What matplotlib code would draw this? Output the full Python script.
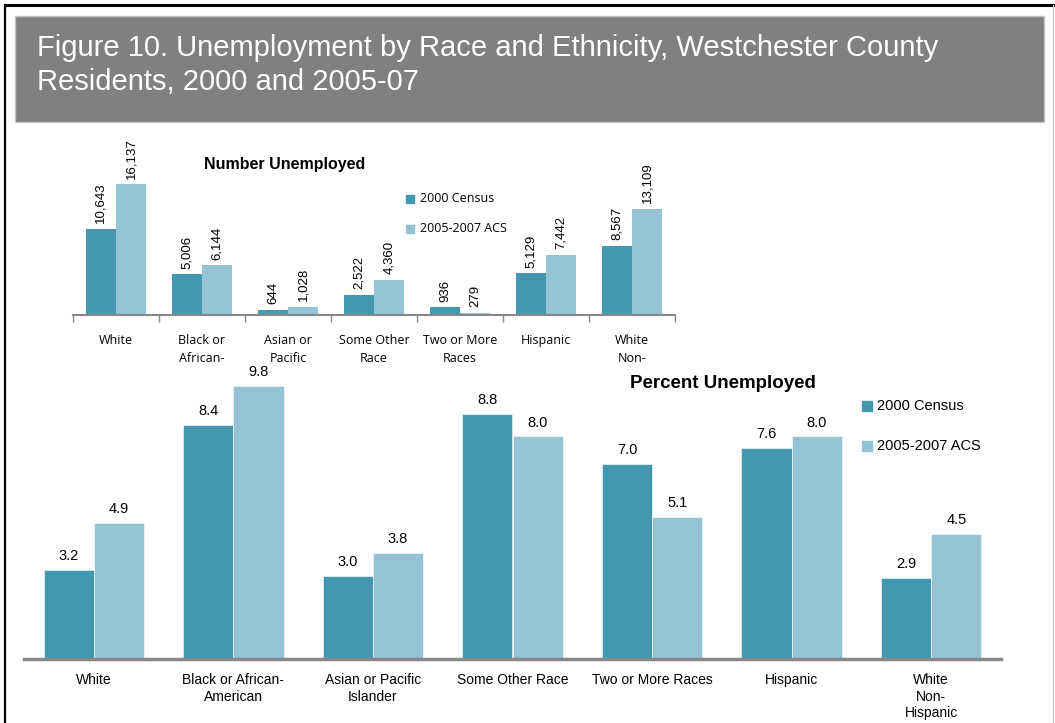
import matplotlib.pyplot as plt
from matplotlib.patches import Rectangle
from matplotlib.lines import Line2D
from matplotlib.transforms import Bbox
import numpy as np

plt.rcParams['font.family'] = ['Liberation Sans', 'DejaVu Sans']

# data
groups_top = ['White', 'Black or\nAfrican-', 'Asian or\nPacific', 'Some Other\nRace',
              'Two or More\nRaces', 'Hispanic', 'White\nNon-']
groups_bot = ['White', 'Black or African-\nAmerican', 'Asian or Pacific\nIslander',
              'Some Other Race', 'Two or More Races', 'Hispanic', 'White\nNon-\nHispanic']
series = ['2000 Census', '2005-2007 ACS']
num_2000 = [10643, 5006, 644, 2522, 936, 5129, 8567]
num_acs = [16137, 6144, 1028, 4360, 279, 7442, 13109]
pct_2000 = [3.2, 8.4, 3.0, 8.8, 7.0, 7.6, 2.9]
pct_acs = [4.9, 9.8, 3.8, 8.0, 5.1, 8.0, 4.5]

c1 = '#4398AF'
c2 = '#93C3D4'
W, H = 1055, 723

fig = plt.figure(figsize=(W / 100, H / 100), dpi=100)


def px_axes(left, right, top, bottom):
    return fig.add_axes([left / W, 1 - bottom / H, (right - left) / W, (bottom - top) / H])


# frame + title box
fig.add_artist(Line2D([5 / W, 1], [1 - 5 / H, 1 - 5 / H], color='black', lw=2.2))
fig.add_artist(Line2D([5 / W, 5 / W], [0, 1 - 5 / H], color='black', lw=1.6))
fig.add_artist(Line2D([1053 / W, 1053 / W], [0, 1 - 5 / H], color='#c8c8c8', lw=1))
fig.add_artist(Rectangle((15 / W, 1 - 122 / H), (1044 - 15) / W, (122 - 16) / H,
                         facecolor='#808080', edgecolor='#c4c4c4', lw=1))
fig.text(37 / W, 1 - 48 / H, 'Figure 10. Unemployment by Race and Ethnicity, Westchester County',
         color='white', fontsize=21, va='center')
fig.text(37 / W, 1 - 82 / H, 'Residents, 2000 and 2005-07',
         color='white', fontsize=21, va='center')

# ---- number unemployed ----
x = np.arange(len(groups_top))
w = 0.35
ax1 = px_axes(73, 675, 153, 315)
b1 = ax1.bar(x - w / 2, num_2000, w, color=c1, label=series[0])
b2 = ax1.bar(x + w / 2, num_acs, w, color=c2, label=series[1])
ax1.set_xlim(-0.5, len(x) - 0.5)
ax1.set_ylim(0, 20000)
for bars, vals in ((b1, num_2000), (b2, num_acs)):
    for r, v in zip(bars, vals):
        ax1.annotate(f'{v:,}', (r.get_x() + r.get_width() / 2, v), xytext=(0, 4),
                     textcoords='offset points', rotation=90, ha='center', va='bottom',
                     fontsize=9.5, annotation_clip=False)
for s in ['top', 'right', 'left']:
    ax1.spines[s].set_visible(False)
ax1.spines['bottom'].set_color('#888888')
ax1.spines['bottom'].set_linewidth(1.5)
ax1.set_yticks([])
ax1.set_xticks(np.arange(len(x) + 1) - 0.5, minor=True)
ax1.set_xticks(x)
ax1.set_xticklabels(groups_top, fontsize=9, family=['Open Sans', 'DejaVu Sans'], linespacing=1.45)
ax1.tick_params(axis='x', which='major', length=0, pad=14)
ax1.tick_params(axis='x', which='minor', length=5, color='#888888', width=1)
t = fig.text(285 / W, 1 - 165 / H, 'Number Unemployed', fontsize=11.5, fontweight='bold',
             ha='center', va='center')
t.set_clip_box(Bbox.from_extents(0, H - 172, W, H))
t.set_clip_on(True)
for i, (name, col) in enumerate(zip(series, (c1, c2))):
    y = 1 - (199 + 30 * i) / H
    fig.add_artist(Rectangle((406 / W, y - 4 / H), 8 / W, 8 / H, color=col))
    fig.text(420 / W, y, name, fontsize=9, va='center', family=['Open Sans', 'DejaVu Sans'])

# ---- percent unemployed ----
w2 = 0.36
ax2 = px_axes(24, 1001, 353, 659)
ax2.patch.set_visible(False)
p1 = ax2.bar(x - w2 / 2, pct_2000, w2, color=c1, edgecolor='white', linewidth=0.4)
p2 = ax2.bar(x + w2 / 2, pct_acs, w2, color=c2, edgecolor='white', linewidth=0.4)
ax2.set_xlim(-0.5, len(x) - 0.5)
ax2.set_ylim(0, 11)
for bars, vals in ((p1, pct_2000), (p2, pct_acs)):
    for r, v in zip(bars, vals):
        ax2.annotate(f'{v:.1f}', (r.get_x() + r.get_width() / 2, v), xytext=(0, 5),
                     textcoords='offset points', ha='center', va='bottom', fontsize=10.5,
                     annotation_clip=False)
for s in ['top', 'right', 'left']:
    ax2.spines[s].set_visible(False)
ax2.spines['bottom'].set_color('#888888')
ax2.spines['bottom'].set_linewidth(2.5)
ax2.set_yticks([])
ax2.set_xticks(x)
ax2.set_xticklabels(groups_bot, fontsize=10, linespacing=1.25)
ax2.tick_params(axis='x', length=0, pad=10)
fig.text(723 / W, 1 - 383 / H, 'Percent Unemployed', fontsize=13.5, fontweight='bold',
         ha='center', va='center')
for i, (name, col) in enumerate(zip(series, (c1, c2))):
    y = 1 - (406 + 40 * i) / H
    fig.add_artist(Rectangle((862 / W, y - 5 / H), 10 / W, 10 / H, color=col))
    fig.text(877 / W, y, name, fontsize=10.5, va='center')

fig.savefig('out.png', dpi=100)
